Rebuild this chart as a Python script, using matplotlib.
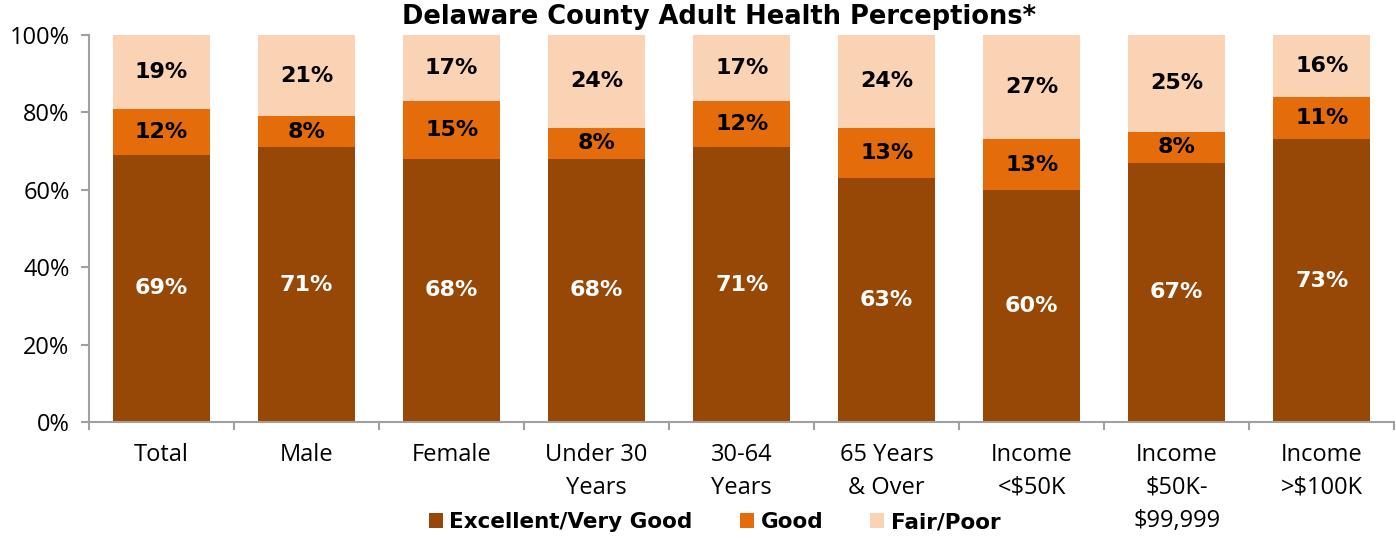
import matplotlib.pyplot as plt
import numpy as np

categories = ["Total", "Male", "Female", "Under 30\nYears", "30-64\nYears",
              "65 Years\n& Over", "Income\n<$50K", "Income\n$50K-\n$99,999",
              "Income\n>$100K"]
excellent = [69, 71, 68, 68, 71, 63, 60, 67, 73]
good = [12, 8, 15, 8, 12, 13, 13, 8, 11]
fair_poor = [19, 21, 17, 24, 17, 24, 27, 25, 16]
series_names = ["Excellent/Very Good", "Good", "Fair/Poor"]
colors = ["#974706", "#E46C0A", "#FAD3B5"]
text_colors = ["white", "black", "black"]

fig = plt.figure(figsize=(13.96, 5.4), dpi=100)
ax = fig.add_axes([0.0638, 0.2185, 0.935, 0.7167])

x = np.arange(len(categories))
bottom = np.zeros(len(categories))
handles = []
for vals, name, col, tcol in zip([excellent, good, fair_poor], series_names, colors, text_colors):
    vals = np.array(vals, dtype=float)
    bars = ax.bar(x, vals, bottom=bottom, width=0.67, color=col, label=name)
    handles.append(bars)
    for xi, b, v in zip(x, bottom, vals):
        ax.text(xi, b + v / 2, f"{int(v)}%", ha="center", va="center",
                color=tcol, fontsize=16, fontweight="bold", family="DejaVu Sans")
    bottom += vals

ax.set_xlim(-0.5, len(categories) - 0.5)
ax.set_ylim(0, 100)
ax.set_yticks(np.arange(0, 101, 20))
ax.set_yticklabels([f"{v}%" for v in range(0, 101, 20)], fontsize=17, family="Open Sans")
ax.set_xticks(np.arange(-0.5, len(categories), 1), minor=False)
ax.set_xticklabels([])
ax.set_xticks(x, minor=True)
ax.set_xticklabels(categories, minor=True, fontsize=17, family="Open Sans",
                   linespacing=1.5, va="top")
ax.tick_params(axis="x", which="minor", length=0, pad=15)
ax.tick_params(axis="x", which="major", length=6, width=1.5, color="#A0A0A0", direction="out")
ax.tick_params(axis="y", length=6, width=1.5, color="#A0A0A0", pad=8)

for s in ["top", "right"]:
    ax.spines[s].set_visible(False)
for s in ["left", "bottom"]:
    ax.spines[s].set_color("#A0A0A0")
    ax.spines[s].set_linewidth(1.5)

fig.text(0.515, 0.968, "Delaware County Adult Health Perceptions*", fontsize=18.5,
         fontweight="bold", family="DejaVu Sans", ha="center", va="center")

fig.legend(handles=handles, labels=series_names, loc="center",
           bbox_to_anchor=(0.512, 0.033), ncol=3, frameon=False,
           prop={"family": "DejaVu Sans", "weight": "bold", "size": 15.5},
           handlelength=0.65, handleheight=0.65, handletextpad=0.3, columnspacing=2.2)

fig.savefig("out.png", dpi=100)
